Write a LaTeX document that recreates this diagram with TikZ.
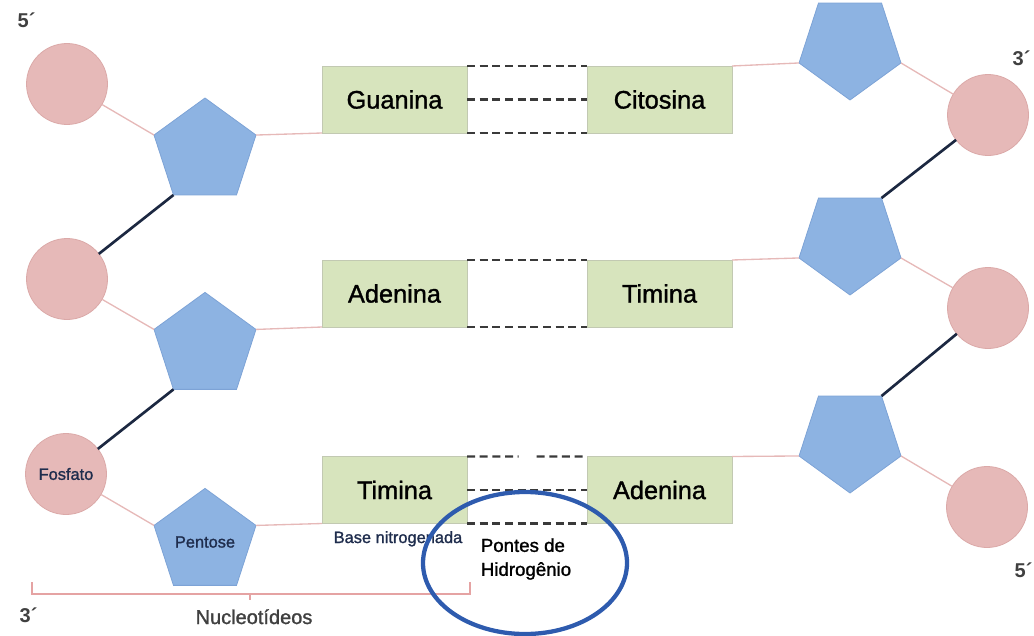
\documentclass[tikz,border=0pt]{standalone}
\usepackage{fontspec}
\setmainfont{Liberation Sans}
\newfontfamily\heavyfont[FakeBold=1.3]{Liberation Sans}
\usetikzlibrary{shapes.geometric,calc}
\definecolor{fosfatopink}{HTML}{E6B9B8}
\definecolor{fosfatoline}{HTML}{DBA9A8}
\definecolor{pentoseblue}{HTML}{8DB3E2}
\definecolor{pentoseline}{HTML}{7DA3D6}
\definecolor{basegreen}{HTML}{D7E4BD}
\definecolor{baseline}{HTML}{C2C9B2}
\definecolor{strandnavy}{HTML}{1C2841}
\definecolor{pontegray}{HTML}{3A3A3A}
\definecolor{textnavy}{HTML}{1F2D4D}
\definecolor{endgray}{HTML}{404040}
\definecolor{chaveline}{HTML}{E5A3A3}
\definecolor{destaqueblue}{HTML}{2E5BAE}
\begin{document}
\begin{tikzpicture}[x=0.75pt, y=-0.75pt,
    fosfato/.style={circle, draw=fosfatoline, fill=fosfatopink, line width=0.6pt,
        minimum size=60.75pt, inner sep=0pt, outer sep=0pt,
        text=textnavy, font=\heavyfont\fontsize{12.3}{14}\selectfont},
    pentose/.style={regular polygon, regular polygon sides=5, draw=pentoseline,
        fill=pentoseblue, line width=0.6pt, minimum size=80.4pt, inner sep=0pt,
        outer sep=0pt, text=textnavy, font=\heavyfont\fontsize{12.3}{14}\selectfont},
    pentosedown/.style={pentose, shape border rotate=180},
    base/.style={rectangle, draw=baseline, fill=basegreen, line width=0.6pt,
        minimum width=108.75pt, minimum height=50.25pt, inner sep=0pt,
        outer sep=0pt, font=\heavyfont\fontsize{19}{22}\selectfont},
    ligacao/.style={draw=fosfatopink, line width=1pt},
    fosfodiester/.style={draw=strandnavy, line width=2pt},
    ponte/.style={draw=pontegray, line width=1.6pt, dash pattern=on 6pt off 3.5pt},
    extremo/.style={anchor=base west, text=endgray, font=\bfseries\fontsize{15}{18}\selectfont}]
    \useasboundingbox (0,0) rectangle (1034,635);

    % Draw nodes for left strand
    \node[fosfato] (F1) at (67,84) {};
    \node[fosfato] (F2) at (67,279) {};
    \node[fosfato] (F3) at (66,474) {Fosfato};
    \node[pentose] (S1) at (205,151.6) {};
    \node[pentose] (S2) at (205,346) {};
    \node[pentose] (S3) at (205,542) {Pentose};

    % Draw nodes for right strand
    \node[pentosedown] (S4) at (850,46.4) {};
    \node[pentosedown] (S5) at (850,241.4) {};
    \node[pentosedown] (S6) at (850,439.4) {};
    \node[fosfato] (F4) at (988,115) {};
    \node[fosfato] (F5) at (988,308) {};
    \node[fosfato] (F6) at (987,507) {};

    % Draw nitrogenous bases
    \node[base] (G1) at (394.5,99.5) {Guanina};
    \node[base] (C1) at (659.5,99.5) {Citosina};
    \node[base] (A1) at (394.5,293.5) {Adenina};
    \node[base] (T1) at (659.5,293.5) {Timina};
    \node[base] (T2) at (394.5,490) {Timina};
    \node[base] (A2) at (659.5,490) {Adenina};

    % Draw edges of left strand
    \draw[ligacao] (F1) -- (S1.corner 2);
    \draw[ligacao] (S1.corner 5) -- (G1.south west);
    \draw[fosfodiester] (S1.corner 3) -- (F2);
    \draw[ligacao] (F2) -- (S2.corner 2);
    \draw[ligacao] (S2.corner 5) -- (A1.south west);
    \draw[fosfodiester] (S2.corner 3) -- (F3);
    \draw[ligacao] (F3) -- (S3.corner 2);
    \draw[ligacao] (S3.corner 5) -- (T2.south west);

    % Draw edges of right strand
    \draw[ligacao] (S4.corner 5) -- (C1.north east);
    \draw[ligacao] (S4.corner 2) -- (F4);
    \draw[fosfodiester] (F4) -- (S5.corner 3);
    \draw[ligacao] (S5.corner 5) -- (T1.north east);
    \draw[ligacao] (S5.corner 2) -- (F5);
    \draw[fosfodiester] (F5) -- (S6.corner 3);
    \draw[ligacao] (S6.corner 5) -- (A2.north east);
    \draw[ligacao] (S6.corner 2) -- (F6);

    % Draw hydrogen bonds (dashed)
    \draw[ponte] (G1.north east) -- (C1.north west);
    \draw[ponte] (G1.east) -- (C1.west);
    \draw[ponte] (G1.south east) -- (C1.south west);
    \draw[ponte] (A1.north east) -- (T1.north west);
    \draw[ponte] (A1.south east) -- (T1.south west);
    \draw[ponte] (T2.north east) -- ($(T2.north east)!0.43!(A2.north west)$);
    \draw[ponte] ($(T2.north east)!0.58!(A2.north west)$) -- (A2.north west);
    \draw[ponte] (T2.east) -- (A2.west);
    \draw[ponte] (T2.south east) -- (A2.south west);

    % Draw 5' and 3' ends
    \node[extremo] (topo5) at (13,28) {5´};
    \node[extremo] (topo3) at (1008,65) {3´};
    \node[extremo] (fundo5) at (1010,577) {5´};
    \node[extremo] (fundo3) at (15,622) {3´};

    % Draw labels
    \node[anchor=base west, text=textnavy, font=\heavyfont\fontsize{12.3}{14}\selectfont]
        (basenome) at (329,543) {Base nitrogenada};
    \draw[chaveline, line width=0.8pt] (32,582) -- (32,594) -- (470,594) -- (470,582);
    \draw[chaveline, line width=0.8pt] (250,594) -- (250,600);
    \node[anchor=base, text=endgray, font=\heavyfont\fontsize{15}{18}\selectfont]
        (nucleo) at (254,624) {Nucleotídeos};
    \node[align=left, font=\heavyfont\fontsize{14}{18}\selectfont] (pontes) at (526,559)
        {Pontes de\\Hidrogênio};

    % Draw highlight ellipse (thicker and in blue)
    \node[ellipse, draw=destaqueblue, line width=3.2pt, minimum width=153pt,
        minimum height=106.5pt, inner sep=0pt] (destaque) at (525,563) {};
\end{tikzpicture}
\end{document}
